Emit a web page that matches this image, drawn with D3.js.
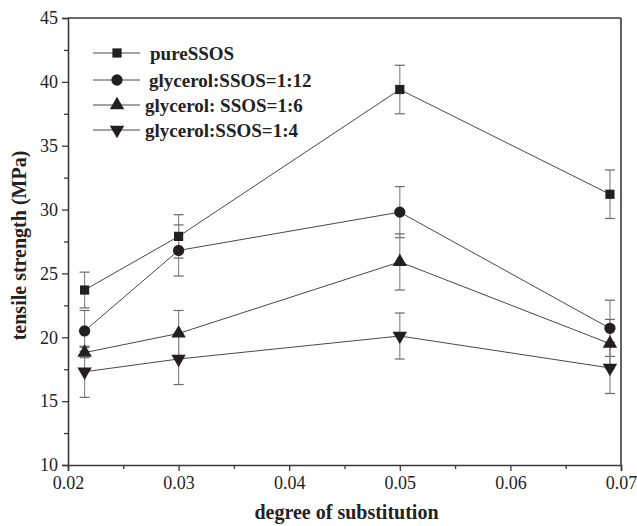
<!DOCTYPE html>
<html>
<head>
<meta charset="utf-8">
<script src="https://cdn.jsdelivr.net/npm/d3@7"></script>
<style>
  body { margin: 0; background: #fff; }
  svg text { font-family: "Liberation Serif", "Times New Roman", serif; fill: #222; }
</style>
</head>
<body>
<svg class="chart" width="637" height="526"></svg>
<script>
// data
var dsValues = [0.0215, 0.030, 0.050, 0.069];
var seriesNames = ["pureSSOS", "glycerol:SSOS=1:12", "glycerol: SSOS=1:6", "glycerol:SSOS=1:4"];
var pureSSOS = [23.7, 27.9, 39.4, 31.2];
var pureErr = [1.4, 1.7, 1.9, 1.9];
var gly12 = [20.5, 26.8, 29.8, 20.7];
var gly12Err = [1.6, 2.0, 2.0, 2.2];
var gly6 = [18.8, 20.3, 25.9, 19.5];
var gly6Err = [0.4, 1.8, 2.2, 1.9];
var gly4 = [17.3, 18.3, 20.1, 17.6];
var gly4Err = [2.0, 2.0, 1.8, 2.0];
var xTicks = [0.02, 0.03, 0.04, 0.05, 0.06, 0.07];
var yTicks = [10, 15, 20, 25, 30, 35, 40, 45];

var svg = d3.select("svg.chart"),
    margin = {top: 18, right: 16, bottom: 61, left: 68},
    width = +svg.attr("width") - margin.left - margin.right,
    height = +svg.attr("height") - margin.top - margin.bottom,
    g = svg.append("g").attr("transform", "translate(" + margin.left + "," + margin.top + ")");

var x = d3.scaleLinear().domain([0.02, 0.07]).range([0, width]);
var y = d3.scaleLinear().domain([10, 45]).range([height, 0]);

var symbols = [d3.symbolSquare, d3.symbolCircle, d3.symbolTriangle, d3.symbolTriangle];
var symSizes = [85, 100, 90, 90];

var series = [pureSSOS, gly12, gly6, gly4].map(function(vals, k) {
  var errs = [pureErr, gly12Err, gly6Err, gly4Err][k];
  return {
    name: seriesNames[k],
    k: k,
    values: vals.map(function(v, i) { return {ds: dsValues[i], v: v, e: errs[i]}; })
  };
});

// axes: minor ticks first, then major ones
var axisColor = "#3a3a3a";
var xMinor = d3.range(0.025, 0.07, 0.01);
var yMinor = d3.range(12.5, 45, 5);

var xAxis = g.append("g")
  .attr("class", "axis axis--x")
  .attr("transform", "translate(0," + height + ")")
  .call(d3.axisBottom(x).tickValues(xTicks).tickFormat(d3.format(".2f")).tickSize(6).tickPadding(5));
g.append("g")
  .attr("transform", "translate(0," + height + ")")
  .call(d3.axisBottom(x).tickValues(xMinor).tickFormat("").tickSize(4))
  .select(".domain").remove();

var yAxis = g.append("g")
  .attr("class", "axis axis--y")
  .call(d3.axisLeft(y).tickValues(yTicks).tickSize(6).tickPadding(4));
g.append("g")
  .call(d3.axisLeft(y).tickValues(yMinor).tickFormat("").tickSize(4))
  .select(".domain").remove();

g.selectAll(".tick line").attr("stroke", axisColor).attr("stroke-width", 1.3);
g.selectAll(".domain").attr("stroke", axisColor).attr("stroke-width", 1.6);
g.selectAll(".tick text").style("font-size", "18px").attr("fill", "#222");

// frame top and right
g.append("line").attr("x1", 0).attr("x2", width).attr("y1", 0).attr("y2", 0)
  .attr("stroke", axisColor).attr("stroke-width", 1.6);
g.append("line").attr("x1", width).attr("x2", width).attr("y1", 0).attr("y2", height)
  .attr("stroke", axisColor).attr("stroke-width", 1.6);

// axis titles
svg.append("text")
  .attr("transform", "translate(26," + (margin.top + height / 2 + 4) + ") rotate(-90)")
  .attr("text-anchor", "middle")
  .style("font-size", "20px")
  .style("font-weight", "bold")
  .text("tensile strength (MPa)");

svg.append("text")
  .attr("x", margin.left + width / 2 + 2)
  .attr("y", 519)
  .attr("text-anchor", "middle")
  .style("font-size", "20px")
  .style("font-weight", "bold")
  .text("degree of substitution");

// error bars
var capW = 5;
series.forEach(function(s) {
  var eb = g.append("g").attr("class", "errbars");
  s.values.forEach(function(d) {
    var cx = x(d.ds);
    eb.append("line").attr("x1", cx).attr("x2", cx).attr("y1", y(d.v - d.e)).attr("y2", y(d.v + d.e))
      .attr("stroke", "#8a8a8a").attr("stroke-width", 1.2);
    [d.v - d.e, d.v + d.e].forEach(function(t) {
      eb.append("line").attr("x1", cx - capW).attr("x2", cx + capW).attr("y1", y(t)).attr("y2", y(t))
        .attr("stroke", "#6a6a6a").attr("stroke-width", 1.2);
    });
  });
});

var line = d3.line()
  .x(function(d) { return x(d.ds); })
  .y(function(d) { return y(d.v); });

function symbolTransform(k, px, py) {
  var t = "translate(" + px + "," + py + ")";
  if (k == 3) t += " rotate(180)";
  return t;
}

series.forEach(function(s) {
  g.append("path")
    .attr("class", "line")
    .attr("d", line(s.values))
    .attr("fill", "none")
    .attr("stroke", "#333")
    .attr("stroke-width", 0.9);

  g.selectAll(".pt" + s.k)
    .data(s.values)
    .enter().append("path")
    .attr("class", "pt" + s.k)
    .attr("d", d3.symbol().type(symbols[s.k]).size(symSizes[s.k]))
    .attr("transform", function(d) { return symbolTransform(s.k, x(d.ds), y(d.v)); })
    .attr("fill", "#231f20");
});

// legend
var legendRows = [53, 80, 105, 130];
var legendTextX = [150, 149, 145, 145];
var legend = svg.append("g").attr("class", "legend");
series.forEach(function(s, i) {
  var ly = legendRows[i];
  legend.append("line").attr("x1", 93).attr("x2", 140).attr("y1", ly).attr("y2", ly)
    .attr("stroke", "#333").attr("stroke-width", 0.9);
  legend.append("path")
    .attr("d", d3.symbol().type(symbols[i]).size(symSizes[i]))
    .attr("transform", symbolTransform(i, 117, ly))
    .attr("fill", "#231f20");
  legend.append("text")
    .attr("x", legendTextX[i])
    .attr("y", ly)
    .attr("dy", "0.35em")
    .style("font-size", "19px")
    .style("font-weight", "bold")
    .text(s.name);
});
</script>
</body>
</html>
